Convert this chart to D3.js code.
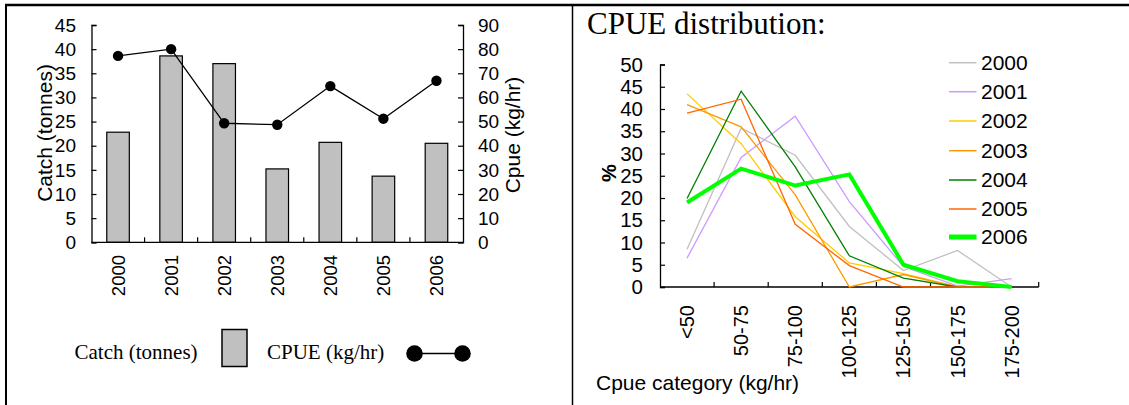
<!DOCTYPE html>
<html><head><meta charset="utf-8">
<script src="https://cdn.jsdelivr.net/npm/d3@7"></script>
<style>body{margin:0;background:#fff}svg{display:block}</style>
</head><body>
<script>
// ---- Data ----
const years = ["2000","2001","2002","2003","2004","2005","2006"];
const catchTonnes = [22.8, 38.6, 37.0, 15.2, 20.7, 13.7, 20.5];
const cpueKgHr = [77.2, 80.0, 49.3, 48.7, 64.7, 51.2, 66.9];
const catchTicks = [0,5,10,15,20,25,30,35,40,45];
const cpueTicks = [0,10,20,30,40,50,60,70,80,90];

const cpueCategories = ["<50","50-75","75-100","100-125","125-150","150-175","175-200"];
const pctTicks = [0,5,10,15,20,25,30,35,40,45,50];
const dist2000 = [8.5, 35.7, 29.6, 13.6, 3.7, 8.2, 0];
const dist2001 = [6.5, 29.1, 38.4, 19.2, 4.6, 0.2, 1.9];
const dist2002 = [43.4, 32.2, 15.8, 5.4, 3.0, 0, 0];
const dist2003 = [41.0, 36.0, 20.7, 0, 2.8, 0, 0];
const dist2004 = [19.9, 44.0, 27.0, 7.0, 2.0, 0, 0];
const dist2005 = [39.1, 42.2, 14.1, 4.8, 0, 0, 0];
const dist2006 = [19.0, 26.6, 22.8, 25.3, 5.0, 1.3, 0];
const distSeries = [
  {name:"2000", values:dist2000, color:"#c0c0c0", w:1.3},
  {name:"2001", values:dist2001, color:"#cc99ff", w:1.3},
  {name:"2002", values:dist2002, color:"#ffcc00", w:1.3},
  {name:"2003", values:dist2003, color:"#ff9900", w:1.3},
  {name:"2004", values:dist2004, color:"#008000", w:1.3},
  {name:"2005", values:dist2005, color:"#ff6600", w:1.3},
  {name:"2006", values:dist2006, color:"#00ff00", w:4}
];

const W = 1129, H = 405;
const svg = d3.select("body").append("svg").attr("width", W).attr("height", H)
  .style("font-family", "Arial, 'Liberation Sans', sans-serif");

// frame
svg.append("line").attr("x1",5).attr("x2",W).attr("y1",5).attr("y2",5).attr("stroke","#000").attr("stroke-width",2.5);
svg.append("line").attr("x1",6).attr("x2",6).attr("y1",4).attr("y2",H).attr("stroke","#000").attr("stroke-width",2);
svg.append("line").attr("x1",572.5).attr("x2",572.5).attr("y1",5).attr("y2",H).attr("stroke","#000").attr("stroke-width",1.5);

// ---- Left chart ----
const L = {x0:91.5, x1:463, y0:242.3, y1:25};
const xL = d3.scaleBand().domain(years).range([L.x0, L.x1]).paddingInner(0.575).paddingOuter(0.2875);
const xLb = d3.scaleBand().domain(years).range([L.x0, L.x1]);
const yCatch = d3.scaleLinear().domain([0,45]).range([L.y0, L.y1]);
const yCpue = d3.scaleLinear().domain([0,90]).range([L.y0, L.y1]);

const gL = svg.append("g");
// bars
gL.selectAll("rect.bar").data(catchTonnes).join("rect").attr("class","bar")
  .attr("x",(d,i)=>xL(years[i])).attr("width",xL.bandwidth())
  .attr("y",d=>yCatch(d)).attr("height",d=>yCatch(0)-yCatch(d))
  .attr("fill","#c0c0c0").attr("stroke","#000").attr("stroke-width",1.2);

// axes
const axL = gL.append("g").attr("transform",`translate(${L.x0},0)`)
  .call(d3.axisRight(yCatch).tickValues(catchTicks).tickSize(5).tickFormat(""));
const axR = gL.append("g").attr("transform",`translate(${L.x1},0)`)
  .call(d3.axisLeft(yCpue).tickValues(cpueTicks).tickSize(5).tickFormat(""));
const axB = gL.append("g").attr("transform",`translate(0,${L.y0})`)
  .call(d3.axisTop(xLb).tickSize(0).tickFormat(""));
[axL,axR,axB].forEach(a=>{a.select(".domain").attr("stroke","#000").attr("stroke-width",1.3);
  a.selectAll(".tick line").attr("stroke","#000").attr("stroke-width",1.2);});
axB.select(".domain").attr("d",`M${L.x0},0H${L.x1}`);
// category boundary ticks
gL.selectAll("line.cb").data(years.slice(1)).join("line").attr("class","cb")
  .attr("x1",d=>xLb(d)).attr("x2",d=>xLb(d)).attr("y1",L.y0).attr("y2",L.y0-5)
  .attr("stroke","#000").attr("stroke-width",1.2);

// tick labels
gL.selectAll("text.tl").data(catchTicks).join("text").attr("class","tl")
  .attr("x",76).attr("y",d=>yCatch(d)).attr("dy","0.35em").attr("text-anchor","end")
  .attr("font-size",19).text(d=>d);
gL.selectAll("text.tr").data(cpueTicks).join("text").attr("class","tr")
  .attr("x",478).attr("y",d=>yCpue(d)).attr("dy","0.35em").attr("text-anchor","start")
  .attr("font-size",19).text(d=>d);
gL.selectAll("text.yr").data(years).join("text").attr("class","yr")
  .attr("transform",d=>`translate(${xLb(d)+xLb.bandwidth()/2},255) rotate(-90)`)
  .attr("dy","0.35em").attr("text-anchor","end").attr("font-size",18.5).text(d=>d);

// line + markers
const lineL = d3.line().x((d,i)=>xLb(years[i])+xLb.bandwidth()/2).y(d=>yCpue(d));
gL.append("path").datum(cpueKgHr).attr("d",lineL).attr("fill","none").attr("stroke","#000").attr("stroke-width",1.3);
gL.selectAll("circle.m").data(cpueKgHr).join("circle").attr("class","m")
  .attr("cx",(d,i)=>xLb(years[i])+xLb.bandwidth()/2).attr("cy",d=>yCpue(d)).attr("r",5.2).attr("fill","#000");

// axis titles
gL.append("text").attr("transform","translate(45,133) rotate(-90)").attr("dy","0.35em")
  .attr("text-anchor","middle").attr("font-size",21).text("Catch (tonnes)");
gL.append("text").attr("transform","translate(513,135) rotate(-90)").attr("dy","0.35em")
  .attr("text-anchor","middle").attr("font-size",21).text("Cpue (kg/hr)");

// legend (Times)
const lg = svg.append("g").style("font-family","'Liberation Serif','Times New Roman',serif").attr("font-size",21);
lg.append("text").attr("x",74.5).attr("y",359).text("Catch (tonnes)");
lg.append("rect").attr("x",222).attr("y",329.5).attr("width",25).attr("height",37)
  .attr("fill","#c0c0c0").attr("stroke","#000").attr("stroke-width",1.5);
lg.append("text").attr("x",267).attr("y",359).text("CPUE (kg/hr)");
lg.append("line").attr("x1",414.5).attr("x2",462.5).attr("y1",353.5).attr("y2",353.5).attr("stroke","#000").attr("stroke-width",1.5);
lg.selectAll("circle").data([414.5,462.5]).join("circle").attr("cx",d=>d).attr("cy",353.5).attr("r",8.3).attr("fill","#000");

// ---- Right chart ----
const R = {x0:660, x1:1038.7, y0:287, y1:64.5};
const xR = d3.scaleBand().domain(cpueCategories).range([R.x0, R.x1]);
const yR = d3.scaleLinear().domain([0,50]).range([R.y0, R.y1]);
const gR = svg.append("g");

svg.append("text").attr("x",587).attr("y",33.5)
  .style("font-family","'Liberation Serif','Times New Roman',serif").attr("font-size",31)
  .text("CPUE distribution:");

const aY = gR.append("g").attr("transform",`translate(${R.x0},0)`)
  .call(d3.axisRight(yR).tickValues(pctTicks).tickSize(5).tickFormat(""));
const aX = gR.append("g").attr("transform",`translate(0,${R.y0})`)
  .call(d3.axisTop(xR).tickSize(0).tickFormat(""));
[aY,aX].forEach(a=>{a.select(".domain").attr("stroke","#000").attr("stroke-width",1.3);
  a.selectAll(".tick line").attr("stroke","#000").attr("stroke-width",1.2);});
aX.select(".domain").attr("d",`M${R.x0},0H${R.x1}`);
gR.selectAll("line.cb").data(cpueCategories.slice(1).concat(["__end"])).join("line").attr("class","cb")
  .attr("x1",d=>d==="__end"?R.x1:xR(d)).attr("x2",d=>d==="__end"?R.x1:xR(d))
  .attr("y1",R.y0).attr("y2",R.y0-5).attr("stroke","#000").attr("stroke-width",1.2);

gR.selectAll("text.tl").data(pctTicks).join("text").attr("class","tl")
  .attr("x",643).attr("y",d=>yR(d)).attr("dy","0.35em").attr("text-anchor","end")
  .attr("font-size",20.5).text(d=>d);
gR.selectAll("text.xl").data(cpueCategories).join("text").attr("class","xl")
  .attr("transform",d=>`translate(${xR(d)+xR.bandwidth()/2},305) rotate(-90)`)
  .attr("dy","0.35em").attr("text-anchor","end").attr("font-size",20).text(d=>d);
gR.append("text").attr("transform","translate(609,173) rotate(-90)").attr("dy","0.35em")
  .attr("text-anchor","middle").attr("font-size",20).attr("font-weight","bold").text("%");
gR.append("text").attr("x",596).attr("y",390).attr("font-size",21).text("Cpue category (kg/hr)");

const lineR = d3.line().x((d,i)=>xR(cpueCategories[i])+xR.bandwidth()/2).y(d=>yR(d));
gR.selectAll("path.s").data(distSeries).join("path").attr("class","s")
  .attr("d",d=>lineR(d.values)).attr("fill","none").attr("stroke",d=>d.color)
  .attr("stroke-width",d=>d.w).attr("stroke-linejoin","miter");

const legY = [62.7, 91.7, 121, 150.7, 180, 209, 237];
const lgR = gR.selectAll("g.lg").data(distSeries).join("g").attr("class","lg")
  .attr("transform",(d,i)=>`translate(0,${legY[i]})`);
lgR.append("line").attr("x1",949).attr("x2",976.5).attr("y1",0).attr("y2",0)
  .attr("stroke",d=>d.color).attr("stroke-width",d=>d.w===4?5:1.5);
lgR.append("text").attr("x",981).attr("y",0).attr("dy","0.35em").attr("font-size",21).text(d=>d.name);
</script>
</body></html>
